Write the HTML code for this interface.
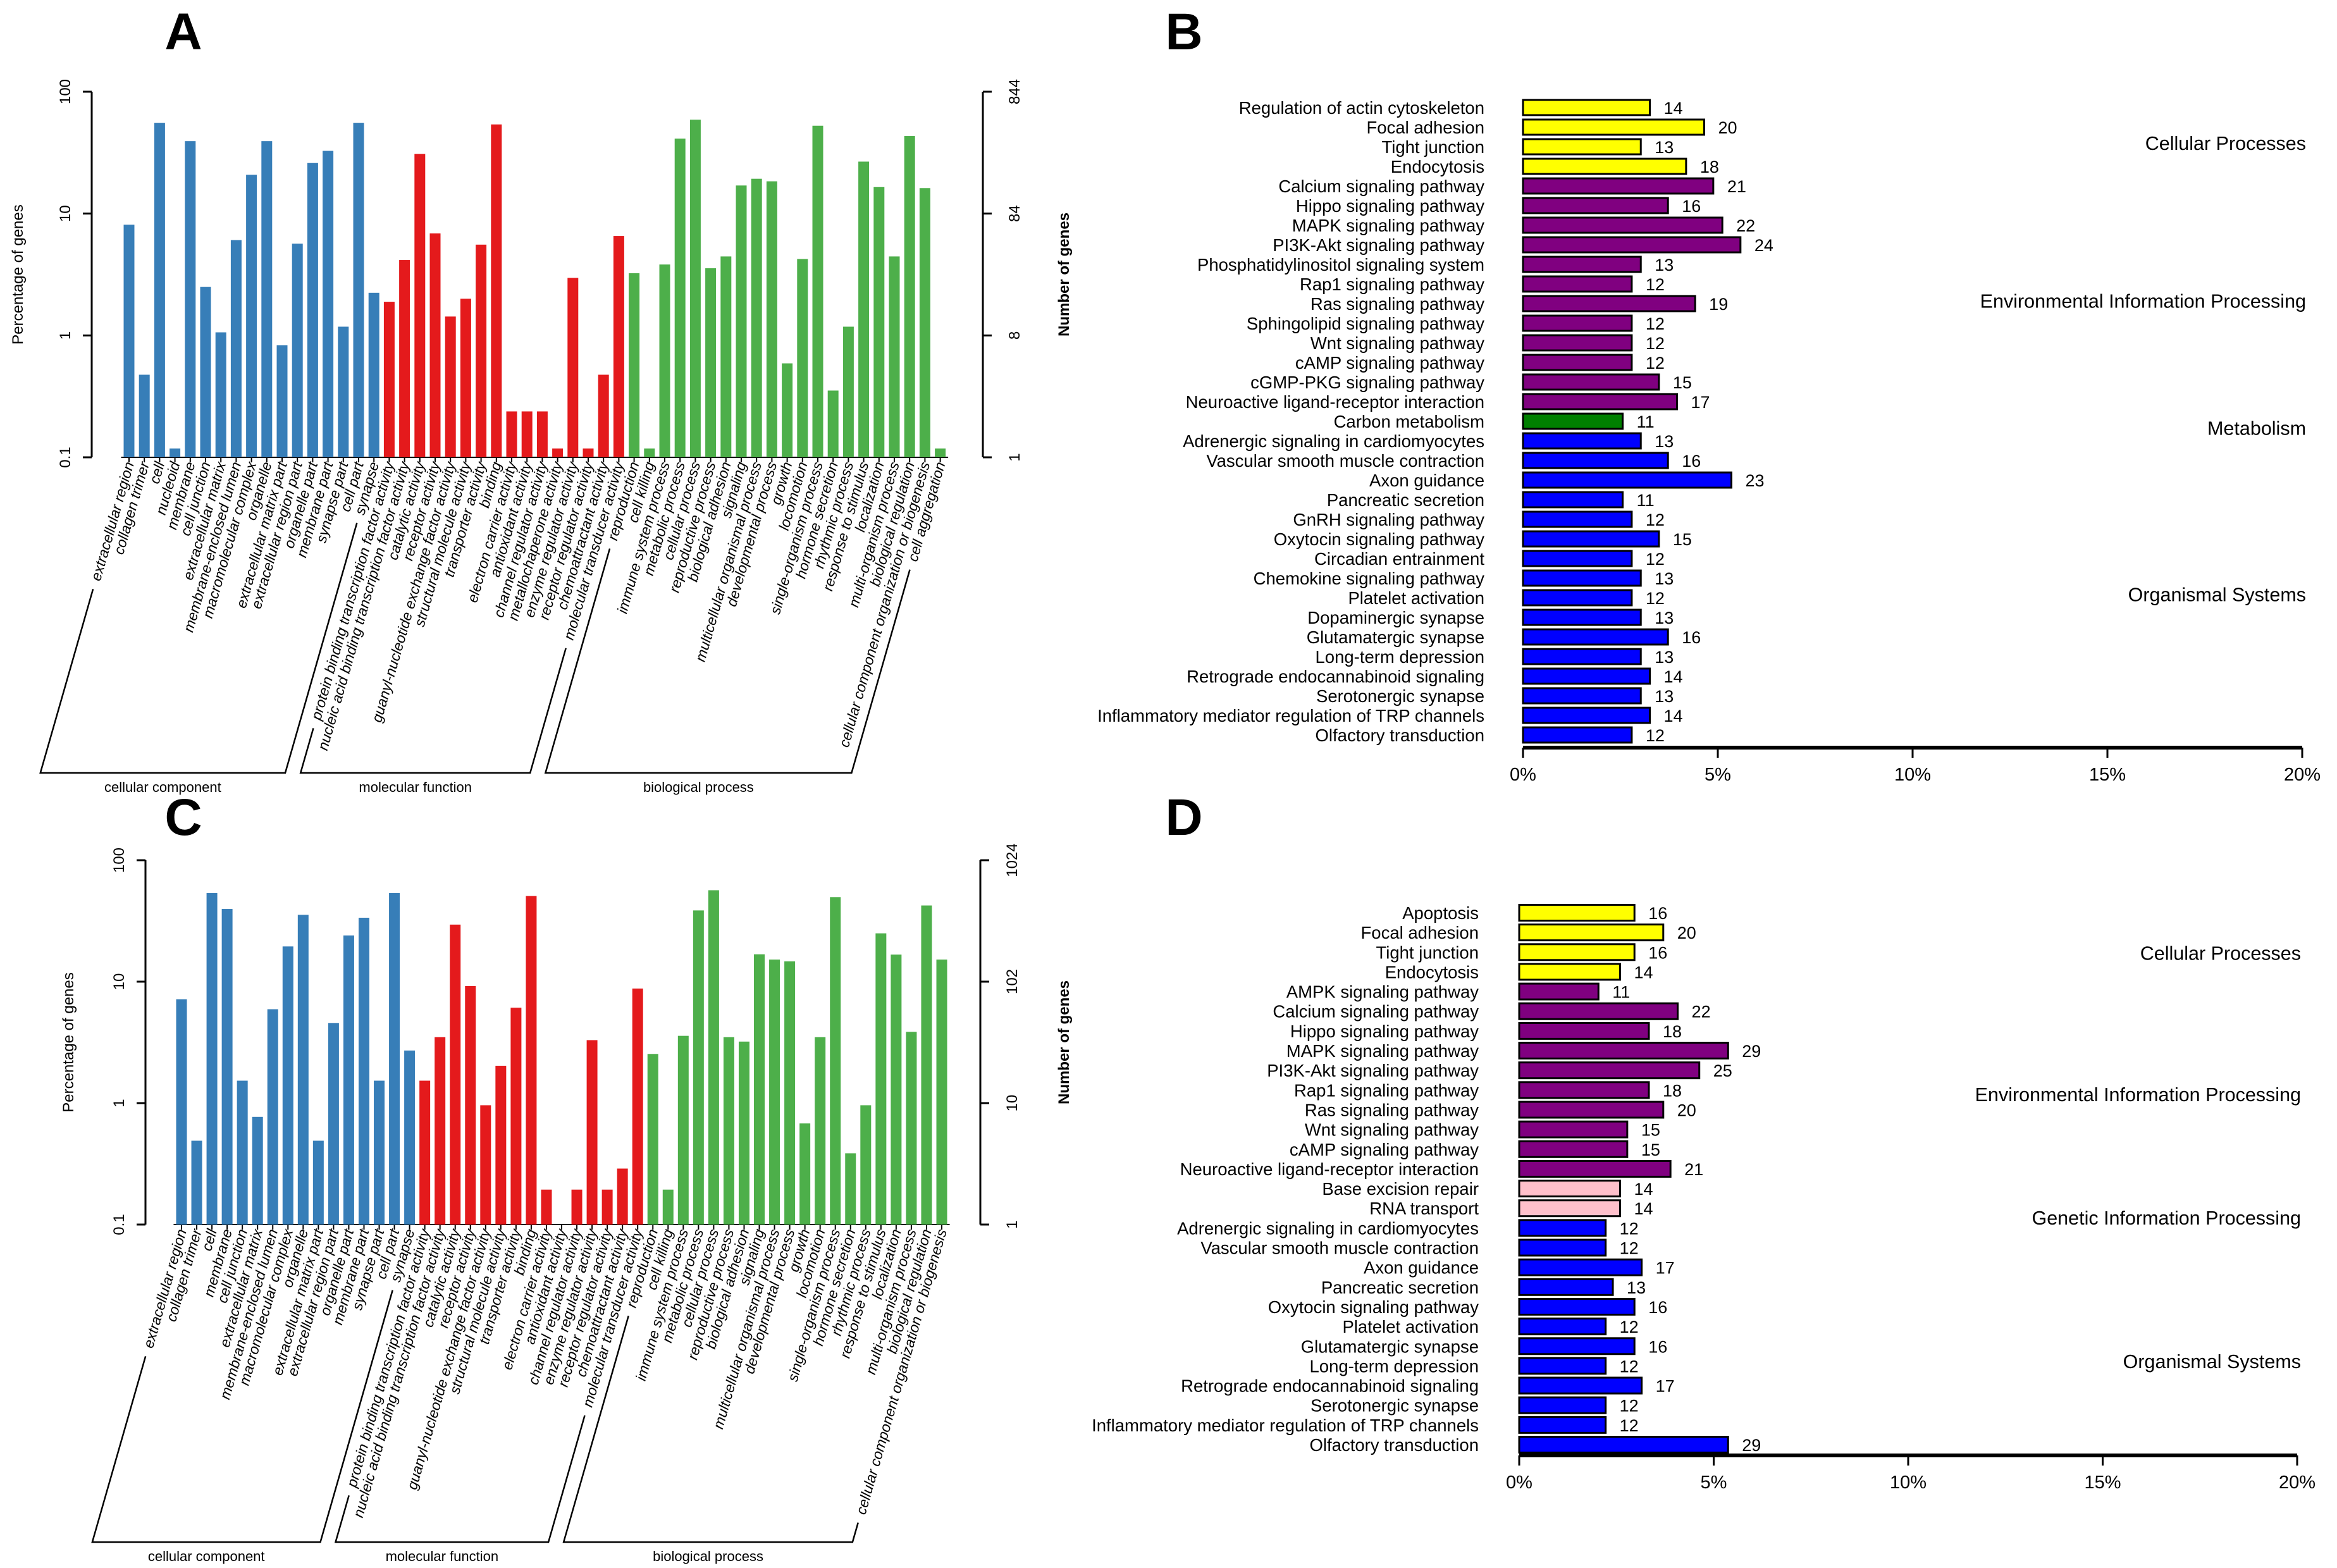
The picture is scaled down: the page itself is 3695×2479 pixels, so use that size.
<!DOCTYPE html>
<html><head><meta charset="utf-8">
<style>
html,body{margin:0;padding:0;background:#fff;}
svg{display:block;font-family:"Liberation Sans",Arial,sans-serif;}
</style></head>
<body>
<svg id="fig" width="3695" height="2479" viewBox="0 0 3695 2479" xmlns="http://www.w3.org/2000/svg">
<rect x="0" y="0" width="3695" height="2479" fill="#fff"/>
<text x="290" y="78" font-size="82" font-weight="bold" text-anchor="middle">A</text>
<text x="1872" y="78" font-size="82" font-weight="bold" text-anchor="middle">B</text>
<text x="290" y="1320" font-size="82" font-weight="bold" text-anchor="middle">C</text>
<text x="1872" y="1320" font-size="82" font-weight="bold" text-anchor="middle">D</text>
<g id="pa"></g>
<g id="pb"></g>
<g id="pc"></g>
<g id="pd"></g>
</svg>
<script>
// ---------- Panel A data ----------
const aCats = ["extracellular region","collagen trimer","cell","nucleoid","membrane","cell junction","extracellular matrix","membrane-enclosed lumen","macromolecular complex","organelle","extracellular matrix part","extracellular region part","organelle part","membrane part","synapse part","cell part","synapse",
"protein binding transcription factor activity","nucleic acid binding transcription factor activity","catalytic activity","receptor activity","guanyl-nucleotide exchange factor activity","structural molecule activity","transporter activity","binding","electron carrier activity","antioxidant activity","channel regulator activity","metallochaperone activity","enzyme regulator activity","receptor regulator activity","chemoattractant activity","molecular transducer activity",
"reproduction","cell killing","immune system process","metabolic process","cellular process","reproductive process","biological adhesion","signaling","multicellular organismal process","developmental process","growth","locomotion","single-organism process","hormone secretion","rhythmic process","response to stimulus","localization","multi-organism process","biological regulation","cellular component organization or biogenesis","cell aggregation"];
const aVals = [8.1,0.476,55.6,0.118,39.3,2.5,1.06,6.06,20.8,39.3,0.83,5.66,26,32.7,1.18,55.6,2.24,
1.89,4.16,30.9,6.87,1.43,2.0,5.56,53.9,0.238,0.238,0.238,0.118,2.97,0.118,0.476,6.55,
3.24,0.118,3.82,41.2,58.9,3.56,4.45,17,19.3,18.4,0.59,4.24,52.6,0.353,1.18,26.7,16.5,4.45,43.3,16.2,0.118];
const aGroupNames = ["cellular component","molecular function","biological process"];
const aGroupSizes = [17,16,21];
const aLeftTicks = ["100","10","1","0.1"];
const aRightTicks = ["844","84","8","1"];

// ---------- Panel C data ----------
const cCats = ["extracellular region","collagen trimer","cell","membrane","cell junction","extracellular matrix","membrane-enclosed lumen","macromolecular complex","organelle","extracellular matrix part","extracellular region part","organelle part","membrane part","synapse part","cell part","synapse",
"protein binding transcription factor activity","nucleic acid binding transcription factor activity","catalytic activity","receptor activity","guanyl-nucleotide exchange factor activity","structural molecule activity","transporter activity","binding","electron carrier activity","antioxidant activity","channel regulator activity","enzyme regulator activity","receptor regulator activity","chemoattractant activity","molecular transducer activity",
"reproduction","cell killing","immune system process","metabolic process","cellular process","reproductive process","biological adhesion","signaling","multicellular organismal process","developmental process","growth","locomotion","single-organism process","hormone secretion","rhythmic process","response to stimulus","localization","multi-organism process","biological regulation","cellular component organization or biogenesis"];
const cVals = [7.15,0.49,53.6,39.7,1.53,0.77,5.93,19.5,35.5,0.49,4.57,24,33.6,1.53,53.6,2.71,
1.53,3.49,29.5,9.2,0.96,2.03,6.1,50.7,0.194,0,0.194,3.3,0.194,0.289,8.78,
2.54,0.194,3.58,38.6,56.6,3.49,3.21,16.8,15.2,14.7,0.68,3.49,49.7,0.386,0.96,25,16.7,3.86,42.4,15.2];
const cGroupNames = ["cellular component","molecular function","biological process"];
const cGroupSizes = [16,15,20];
const cLeftTicks = ["100","10","1","0.1"];
const cRightTicks = ["1024","102","10","1"];

// ---------- Panel B data ----------
const bPaths = ["Regulation of actin cytoskeleton","Focal adhesion","Tight junction","Endocytosis","Calcium signaling pathway","Hippo signaling pathway","MAPK signaling pathway","PI3K-Akt signaling pathway","Phosphatidylinositol signaling system","Rap1 signaling pathway","Ras signaling pathway","Sphingolipid signaling pathway","Wnt signaling pathway","cAMP signaling pathway","cGMP-PKG signaling pathway","Neuroactive ligand-receptor interaction","Carbon metabolism","Adrenergic signaling in cardiomyocytes","Vascular smooth muscle contraction","Axon guidance","Pancreatic secretion","GnRH signaling pathway","Oxytocin signaling pathway","Circadian entrainment","Chemokine signaling pathway","Platelet activation","Dopaminergic synapse","Glutamatergic synapse","Long-term depression","Retrograde endocannabinoid signaling","Serotonergic synapse","Inflammatory mediator regulation of TRP channels","Olfactory transduction"];
const bCounts = [14,20,13,18,21,16,22,24,13,12,19,12,12,12,15,17,11,13,16,23,11,12,15,12,13,12,13,16,13,14,13,14,12];
const bTotal = 430;
const bClass = [0,0,0,0,1,1,1,1,1,1,1,1,1,1,1,1,2,3,3,3,3,3,3,3,3,3,3,3,3,3,3,3,3];
const bClassNames = ["Cellular Processes","Environmental Information Processing","Metabolism","Organismal Systems"];
const bClassColors = ["#FFFF00","#800080","#008000","#0000FF"];
const bClassLabelRow = [1.84,9.88,16.37,24.86];
const bTicks = [0,5,10,15,20];

// ---------- Panel D data ----------
const dPaths = ["Apoptosis","Focal adhesion","Tight junction","Endocytosis","AMPK signaling pathway","Calcium signaling pathway","Hippo signaling pathway","MAPK signaling pathway","PI3K-Akt signaling pathway","Rap1 signaling pathway","Ras signaling pathway","Wnt signaling pathway","cAMP signaling pathway","Neuroactive ligand-receptor interaction","Base excision repair","RNA transport","Adrenergic signaling in cardiomyocytes","Vascular smooth muscle contraction","Axon guidance","Pancreatic secretion","Oxytocin signaling pathway","Platelet activation","Glutamatergic synapse","Long-term depression","Retrograde endocannabinoid signaling","Serotonergic synapse","Inflammatory mediator regulation of TRP channels","Olfactory transduction"];
const dCounts = [16,20,16,14,11,22,18,29,25,18,20,15,15,21,14,14,12,12,17,13,16,12,16,12,17,12,12,29];
const dTotal = 540;
const dClass = [0,0,0,0,1,1,1,1,1,1,1,1,1,1,2,2,3,3,3,3,3,3,3,3,3,3,3,3];
const dClassNames = ["Cellular Processes","Environmental Information Processing","Genetic Information Processing","Organismal Systems"];
const dClassColors = ["#FFFF00","#800080","#FFC0CB","#0000FF"];
const dClassLabelRow = [2.07,9.25,15.5,22.8];
const dTicks = [0,5,10,15,20];

const NS = "http://www.w3.org/2000/svg";
function mk(parent, tag, attrs, txt){
  const e = document.createElementNS(NS, tag);
  for (const k in attrs) e.setAttribute(k, attrs[k]);
  if (txt !== undefined) e.textContent = txt;
  parent.appendChild(e);
  return e;
}
const GO_COLORS = ["#377EB8","#E41A1C","#4DAF4A"];

function goChart(g, cats, vals, gNames, gSizes, lTicks, rTicks, L){
  const yScale = v => L.bottom - (Math.log10(v) + 1) / 3 * (L.bottom - L.top);
  const xScale = i => L.x0 + i * L.pitch;
  let e = mk(g, "line", {x1:L.ax, y1:L.top, x2:L.ax, y2:L.bottom, stroke:"#000","stroke-width":3});
  
  
  e = mk(g, "line", {x1:L.rx, y1:L.top, x2:L.rx, y2:L.bottom, stroke:"#000","stroke-width":3});
  
  
  lTicks.forEach((t, k) => {
    const v = Math.pow(10, 2 - k);
    const y = yScale(v);
    let tk = mk(g, "line", {x1:L.ax-14, y1:y, x2:L.ax, y2:y, stroke:"#000","stroke-width":3});
    
    
    let tl = mk(g, "text", {x:L.ax-34, y:y, "font-size":24, "text-anchor":"middle", transform:`rotate(-90 ${L.ax-34} ${y})`}, t);
    
    
    let rk = mk(g, "line", {x1:L.rx, y1:y, x2:L.rx+14, y2:y, stroke:"#000","stroke-width":3});
    
    
    let rl = mk(g, "text", {x:L.rx+58, y:y, "font-size":24, "text-anchor":"middle", transform:`rotate(-90 ${L.rx+58} ${y})`}, rTicks[k]);
    
    
  });
  let t1 = mk(g, "text", {x:L.ltx, y:(L.top+L.bottom)/2, "font-size":24, "text-anchor":"middle", transform:`rotate(-90 ${L.ltx} ${(L.top+L.bottom)/2})`}, "Percentage of genes");
  
  
  let t2 = mk(g, "text", {x:L.rtx, y:(L.top+L.bottom)/2, "font-size":24, "font-weight":"bold", "text-anchor":"middle", transform:`rotate(-90 ${L.rtx} ${(L.top+L.bottom)/2})`}, "Number of genes");
  
  
  const n = cats.length;
  let xa = mk(g, "line", {x1:xScale(0)-L.bw/2-4, y1:L.bottom, x2:xScale(n-1)+L.bw/2+4, y2:L.bottom, stroke:"#000","stroke-width":2});
  
  
  const grp = [];
  gSizes.forEach((s, gi) => { for (let k = 0; k < s; k++) grp.push(gi); });
  const ang = 74 * Math.PI / 180;
  const dx = Math.cos(ang), dy = Math.sin(ang);
  const starts = [];
  cats.forEach((c, i) => {
    const cx = xScale(i);
    if (vals[i] > 0) {
      const y = yScale(vals[i]);
      const r = mk(g, "rect", {x:cx-L.bw/2, y:y, width:L.bw, height:L.bottom-y, fill:GO_COLORS[grp[i]]});
      
      
    }
    const tk = mk(g, "line", {x1:cx, y1:L.bottom, x2:cx, y2:L.bottom+8, stroke:"#000","stroke-width":2});
    
    
    const ex = cx + 8, ey = L.bottom + 10;
    const t = mk(g, "text", {x:ex, y:ey, "font-size":23, "font-style":"italic", "text-anchor":"end", transform:`rotate(-74 ${ex} ${ey})`}, c);
    
    
    const len = t.getComputedTextLength();
    starts.push([ex - dx*(len+12) - 8, ey + dy*(len+12)]);
  });
  let idx = 0;
  gSizes.forEach((s, gi) => {
    const a = starts[idx], b = starts[idx+s-1];
    idx += s;
    const ax = a[0] - (L.brY - a[1]) / Math.tan(ang);
    const bx = b[0] - (L.brY - b[1]) / Math.tan(ang);
    const p = mk(g, "polyline", {points:`${a[0]},${a[1]} ${ax},${L.brY} ${bx},${L.brY} ${b[0]},${b[1]}`, fill:"none", stroke:"#000", "stroke-width":2.5});
    
    
    const gl = mk(g, "text", {x:(ax+bx)/2, y:L.brY+30, "font-size":22, "text-anchor":"middle"}, gNames[gi]);
    
    
  });
}

function keggChart(g, paths, counts, total, cls, clsNames, clsColors, clsRow, ticks, L){
  const xScale = p => L.x0 + p / 20 * (L.x1 - L.x0);
  const pitch = (L.yLast - L.yFirst) / (paths.length - 1);
  const yRow = i => L.yFirst + i * pitch;
  paths.forEach((p, i) => {
    const y = yRow(i);
    const pct = counts[i] / total * 100;
    const r = mk(g, "rect", {x:L.x0, y:y-L.bh/2, width:xScale(pct)-L.x0, height:L.bh, fill:clsColors[cls[i]], stroke:"#000", "stroke-width":3});
    
    
    const lt = mk(g, "text", {x:L.lx, y:y+10, "font-size":27.5, "text-anchor":"end"}, p);
    
    
    const vt = mk(g, "text", {x:xScale(pct)+22, y:y+10, "font-size":27}, counts[i]);
    
    
  });
  const ax = mk(g, "line", {x1:L.x0, y1:L.ay, x2:L.x1, y2:L.ay, stroke:"#000", "stroke-width":6});
  
  
  ticks.forEach(t => {
    const x = xScale(t);
    const tk = mk(g, "line", {x1:x, y1:L.ay, x2:x, y2:L.ay+16, stroke:"#000", "stroke-width":3});
    
    
    const tl = mk(g, "text", {x:x, y:L.ay+52, "font-size":29, "text-anchor":"middle"}, t + "%");
    
    
  });
  clsNames.forEach((c, k) => {
    const ct = mk(g, "text", {x:L.x1+6, y:yRow(clsRow[k])+10, "font-size":30.5, "text-anchor":"end"}, c);
    
    
  });
}

goChart(document.getElementById("pa"), aCats, aVals, aGroupNames, aGroupSizes, aLeftTicks, aRightTicks,
  {ax:145, rx:1554, top:145, bottom:723, x0:204, pitch:24.2, bw:17, ltx:36, rtx:1690, brY:1222});
goChart(document.getElementById("pc"), cCats, cVals, cGroupNames, cGroupSizes, cLeftTicks, cRightTicks,
  {ax:230, rx:1550, top:1360, bottom:1936, x0:287, pitch:24.04, bw:17, ltx:116, rtx:1690, brY:2438});
keggChart(document.getElementById("pb"), bPaths, bCounts, bTotal, bClass, bClassNames, bClassColors, bClassLabelRow, bTicks,
  {x0:2408, x1:3640, yFirst:170, yLast:1162, bh:24, lx:2347, ay:1182});
keggChart(document.getElementById("pd"), dPaths, dCounts, dTotal, dClass, dClassNames, dClassColors, dClassLabelRow, dTicks,
  {x0:2402, x1:3632, yFirst:1443, yLast:2284, bh:25, lx:2338, ay:2301});
</script>
</body></html>
